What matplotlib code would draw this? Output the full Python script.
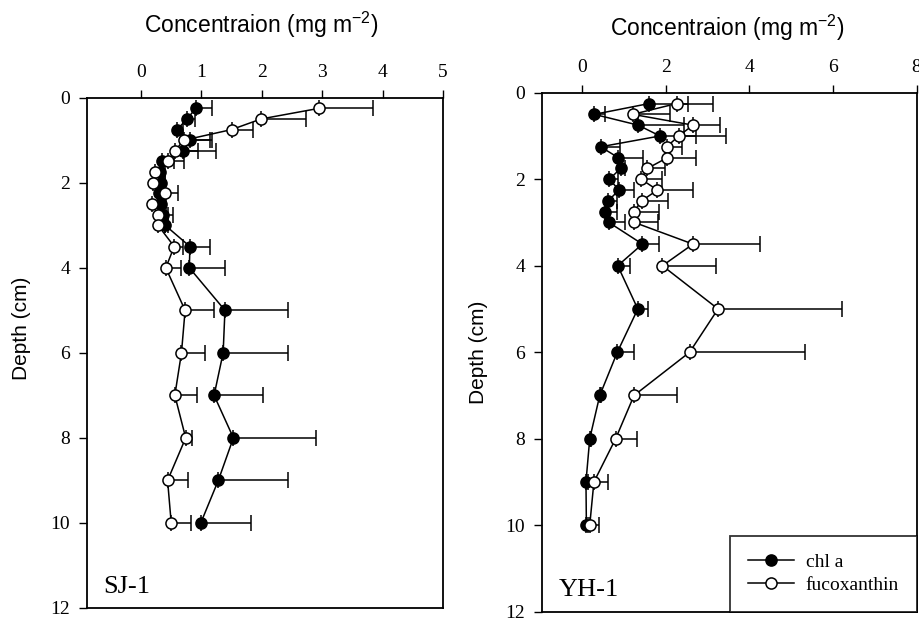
import numpy as np
import matplotlib
matplotlib.use("Agg")
import matplotlib.pyplot as plt

plt.rcParams['mathtext.fontset'] = 'custom'
plt.rcParams['mathtext.rm'] = 'Liberation Sans'
plt.rcParams['mathtext.default'] = 'rm'

# depth (cm) of each layer
depth = [0.25, 0.5, 0.75, 1.0, 1.25, 1.5, 1.75, 2.0, 2.25, 2.5, 2.75, 3.0,
         3.5, 4, 5, 6, 7, 8, 9, 10]

# SJ-1 (mean and end of error bar)
sj_chl = [0.91, 0.76, 0.60, 0.81, 0.70, 0.34, 0.32, 0.33, 0.30, 0.33, 0.36, 0.40,
          0.81, 0.80, 1.39, 1.36, 1.21, 1.53, 1.28, 0.99]
sj_chl_top = [1.17, 0.89, 0.70, 1.17, 1.24, 0.55, 0.40, 0.40, 0.40, 0.42, 0.44, 0.45,
              1.15, 1.39, 2.44, 2.44, 2.02, 2.90, 2.44, 1.82]
sj_fuco = [2.95, 1.99, 1.50, 0.71, 0.56, 0.45, 0.23, 0.20, 0.39, 0.19, 0.28, 0.28,
           0.55, 0.41, 0.73, 0.67, 0.56, 0.74, 0.44, 0.50]
sj_fuco_top = [3.84, 2.74, 1.86, 1.14, 0.94, 0.72, 0.36, 0.34, 0.62, 0.30, 0.53, 0.40,
               0.70, 0.67, 1.21, 1.06, 0.92, 0.84, 0.77, 0.82]

# YH-1
yh_chl = [1.60, 0.29, 1.34, 1.86, 0.44, 0.86, 0.92, 0.65, 0.88, 0.62, 0.54, 0.64,
          1.44, 0.85, 1.33, 0.84, 0.42, 0.18, 0.09, 0.10]
yh_chl_top = [2.52, 0.54, 2.44, 2.73, 0.90, 1.45, 1.02, 0.85, 1.24, 0.84, 0.84, 1.02,
              1.84, 1.14, 1.58, 1.24, 0.46, 0.22, 0.14, 0.14]
yh_fuco = [2.26, 1.21, 2.65, 2.31, 2.02, 2.04, 1.56, 1.41, 1.80, 1.42, 1.24, 1.25,
           2.65, 1.92, 3.25, 2.57, 1.24, 0.80, 0.28, 0.18]
yh_fuco_top = [3.13, 2.09, 3.29, 3.45, 2.38, 2.73, 1.98, 1.90, 2.66, 2.06, 1.84, 1.82,
               4.26, 3.20, 6.22, 5.32, 2.26, 1.30, 0.61, 0.40]

serif = 'Liberation Serif'
sans = 'Liberation Sans'


def panel(ax, chl, chl_top, fuco, fuco_top, xlim, xticks, name):
    for val, top, face, lab in [(chl, chl_top, 'black', 'chl a'),
                                (fuco, fuco_top, 'white', 'fucoxanthin')]:
        val = np.array(val)
        err = np.array(top) - val
        ax.errorbar(val, depth, xerr=[np.zeros_like(err), err], fmt='none',
                    ecolor='black', elinewidth=1.1, capsize=5.5, capthick=1.1, zorder=2)
        ax.plot(val, depth, '-o', color='black', lw=1.1, ms=8,
                mfc=face, mec='black', mew=1.1, label=lab, zorder=3)
    ax.set_xlim(*xlim)
    ax.set_ylim(12, 0)
    ax.xaxis.tick_top()
    ax.set_xticks(xticks)
    ax.set_yticks(range(0, 13, 2))
    ax.tick_params(direction='out', length=6, width=1, labelsize=14, pad=6)
    for lab in ax.get_xticklabels() + ax.get_yticklabels():
        lab.set_fontfamily(serif)
    for sp in ax.spines.values():
        sp.set_linewidth(1.3)
    ax.text(0.046, 0.03, name, transform=ax.transAxes, fontsize=19,
            family=serif, ha='left', va='baseline')


fig = plt.figure(figsize=(9.19, 6.19), dpi=100)
ax1 = fig.add_axes([0.0943, 0.0178, 0.3877, 0.8244])
ax2 = fig.add_axes([0.5894, 0.0118, 0.4080, 0.8384])

panel(ax1, sj_chl, sj_chl_top, sj_fuco, sj_fuco_top, (-0.9, 5), range(0, 6), 'SJ-1')
panel(ax2, yh_chl, yh_chl_top, yh_fuco, yh_fuco_top, (-0.97, 8), range(0, 9, 2), 'YH-1')

leg = ax2.legend(loc='lower right', borderaxespad=0, fancybox=False,
                 prop={'family': serif, 'size': 14}, handlelength=2.4,
                 borderpad=0.9, labelspacing=0.3, handletextpad=0.6)
leg.get_frame().set_edgecolor('black')
leg.get_frame().set_linewidth(1.3)

title = 'Concentraion (mg m$^{-2}$)'
fig.text(261 / 919, 1 - 25 / 619, title, family=sans, fontsize=16.5,
         ha='center', va='center')
fig.text(727.5 / 919, 1 - 28 / 619, title, family=sans, fontsize=16.5,
         ha='center', va='center')
fig.text(22 / 919, 1 - 328 / 619, 'Depth (cm)', family=sans, fontsize=15,
         rotation=90, ha='center', va='center')
fig.text(478 / 919, 1 - 352 / 619, 'Depth (cm)', family=sans, fontsize=15,
         rotation=90, ha='center', va='center')

fig.savefig('out.png', dpi=100)
